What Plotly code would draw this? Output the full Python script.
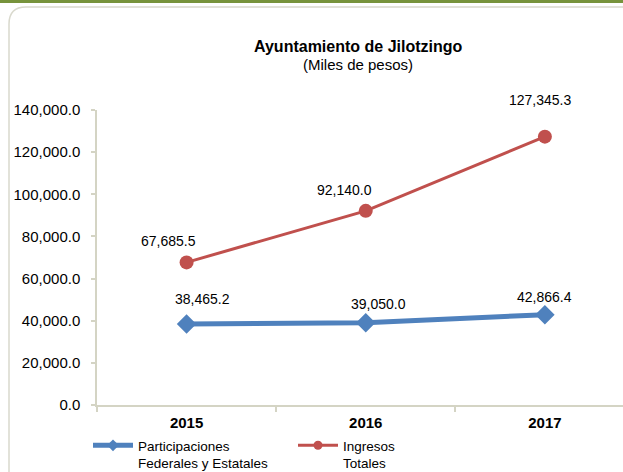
import plotly.graph_objects as go

# ---- data ----
years = ["2015", "2016", "2017"]
participaciones = [38465.2, 39050.0, 42866.4]
ingresos = [67685.5, 92140.0, 127345.3]
series_names = ["Participaciones<br>Federales y Estatales", "Ingresos<br>Totales"]
title_text = "Ayuntamiento de Jilotzingo"
subtitle_text = "(Miles de pesos)"
y_ticks = [0, 20000, 40000, 60000, 80000, 100000, 120000, 140000]

# ---- style / layout constants ----
W, H = 623, 472
ML, MR, MT, MB = 97, 0, 110, 67
BLUE = "#4F81BD"
RED = "#C0504D"
AXIS = "#D4D4C4"
FONT = "Liberation Sans, Arial, sans-serif"

# label offsets (pixels) relative to each marker
blue_shift = [(16, 25), (13, 19), (0, 18)]
red_shift = [(-18, 21), (-21, 21), (-5, 37)]


def px_x(p):
    return (p - ML) / (W - ML - MR)


def px_y(p):
    return (H - MB - p) / (H - MT - MB)


fig = go.Figure()
styles = [
    dict(line=dict(color=BLUE, width=5), symbol="diamond", size=15, lsize=9),
    dict(line=dict(color=RED, width=3), symbol="circle", size=14, lsize=9),
]
for vals, name, st in zip((participaciones, ingresos), series_names, styles):
    fig.add_trace(go.Scatter(
        x=years, y=vals, name=name, mode="lines+markers", showlegend=False,
        line=st["line"],
        marker=dict(symbol=st["symbol"], size=st["size"], color=st["line"]["color"]),
    ))
for name, st in zip(series_names, styles):
    fig.add_trace(go.Scatter(
        x=[None], y=[None], name=name, mode="lines+markers", showlegend=True,
        line=st["line"],
        marker=dict(symbol=st["symbol"], size=st["lsize"], color=st["line"]["color"]),
    ))

annotations = []
for vals, shifts in ((participaciones, blue_shift), (ingresos, red_shift)):
    for i, (yv, (dx, dy)) in enumerate(zip(vals, shifts)):
        annotations.append(dict(
            x=i, y=yv, xref="x", yref="y", text=f"{yv:,.1f}",
            showarrow=False, xshift=dx, yshift=dy,
            xanchor="center", yanchor="middle",
            font=dict(family=FONT, size=14, color="#000000"),
        ))

annotations.append(dict(
    x=px_x(358), y=px_y(46), xref="paper", yref="paper",
    xanchor="center", yanchor="middle",
    text=f"<b>{title_text}</b>", showarrow=False,
    font=dict(family=FONT, size=16, color="#000000"),
))
annotations.append(dict(
    x=px_x(358), y=px_y(64), xref="paper", yref="paper",
    xanchor="center", yanchor="middle",
    text=subtitle_text, showarrow=False,
    font=dict(family=FONT, size=15, color="#000000"),
))

# frame: rounded rectangle + green band at top
x0, y0 = px_x(9), px_y(7)
x1, y1 = px_x(W + 30), px_y(H + 30)
rx = 17 / (W - ML - MR)
ry = 17 / (H - MT - MB)
frame_path = (
    f"M {x0},{y1} L {x0},{y0 - ry} Q {x0},{y0} {x0 + rx},{y0} "
    f"L {x1},{y0} L {x1},{y1} Z"
)
shapes = [
    dict(type="path", xref="paper", yref="paper", path=frame_path,
         line=dict(color="#D9D9CD", width=1.5), fillcolor="rgba(0,0,0,0)",
         layer="below"),
    dict(type="rect", xref="paper", yref="paper",
         x0=px_x(-5), x1=px_x(W + 5), y0=px_y(3), y1=px_y(-5),
         line=dict(width=0), fillcolor="#77933C"),
]

fig.update_layout(
    width=W, height=H,
    margin=dict(l=ML, r=MR, t=MT, b=MB, pad=0, autoexpand=False),
    paper_bgcolor="white", plot_bgcolor="white",
    font=dict(family=FONT, size=14, color="#000000"),
    showlegend=True,
    legend=dict(
        orientation="h", x=px_x(88), xanchor="left",
        y=px_y(430), yanchor="top", valign="top",
        font=dict(family=FONT, size=13.5, color="#000000"),
        entrywidth=150, entrywidthmode="pixels",
        bgcolor="rgba(0,0,0,0)", tracegroupgap=0, itemwidth=40,
    ),
    annotations=annotations,
    shapes=shapes,
    xaxis=dict(
        type="category", range=[-0.5, 2.436],
        showline=True, linecolor=AXIS, linewidth=1.5,
        ticks="outside", ticklen=5, tickcolor=AXIS, tickwidth=1.5,
        tickson="boundaries", showgrid=False, zeroline=False,
        tickfont=dict(family=FONT, size=15, color="#000000", weight="bold"),
        ticklabelstandoff=3,
    ),
    yaxis=dict(
        range=[0, 140000], tickvals=y_ticks, tickformat=",.1f",
        showline=True, linecolor=AXIS, linewidth=1.5,
        ticks="outside", ticklen=4, tickcolor=AXIS, tickwidth=1.5,
        showgrid=False, zeroline=False,
        tickfont=dict(family=FONT, size=15, color="#000000"),
        ticklabelstandoff=8,
    ),
)

fig.write_html("out.html", config={"displayModeBar": False},
               post_script="document.body.style.margin='0';")
